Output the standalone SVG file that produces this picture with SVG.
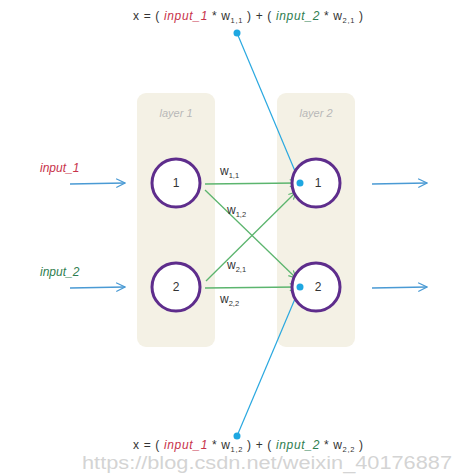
<svg xmlns="http://www.w3.org/2000/svg" width="463" height="474" viewBox="0 0 463 474">
<defs>
<style>
text{font-family:"Liberation Sans","DejaVu Sans",sans-serif;}
.panel{fill:#f4f1e5;}
.lay{font-size:11px;font-style:italic;fill:#b8b8b8;text-anchor:middle;}
.node{fill:#fff;stroke:#5e2d8c;stroke-width:3;}
.nl{font-size:12px;fill:#333;text-anchor:middle;}
.g{stroke:#5cb56e;stroke-width:1.3;fill:none;}
.b{stroke:#4a9ad4;stroke-width:1.3;fill:none;}
.bl{stroke:#29a8e0;stroke-width:1.2;fill:none;}
.dot{fill:#1ea7e1;}
.w{font-size:12px;fill:#333;}
.sub{font-size:7.5px;}
.f{font-size:12px;fill:#333;}
.red{fill:#c8324a;font-style:italic;}
.grn{fill:#2e7d4f;font-style:italic;}
</style>
<marker id="ag" viewBox="0 0 10 10" refX="9" refY="5" markerWidth="9" markerHeight="9" markerUnits="userSpaceOnUse" orient="auto"><path d="M1,1 L9,5 L1,9" fill="none" stroke="#5cb56e" stroke-width="1.3"/></marker>
<marker id="ab" viewBox="0 0 10 10" refX="9" refY="5" markerWidth="11" markerHeight="11" markerUnits="userSpaceOnUse" orient="auto"><path d="M1,1 L9,5 L1,9" fill="none" stroke="#4a9ad4" stroke-width="1.1"/></marker>
</defs>
<rect width="463" height="474" fill="#fff"/>
<g id="layer1"><rect class="panel" x="137" y="93" width="78" height="254" rx="9"/><text class="lay" x="176" y="117">layer 1</text></g>
<g id="layer2"><rect class="panel" x="277" y="93" width="78" height="254" rx="9"/><text class="lay" x="316" y="117">layer 2</text></g>
<g id="connectors">
<path class="g" d="M205,184 L297,183" marker-end="url(#ag)"/>
<path class="g" d="M205,190 L296,278" marker-end="url(#ag)"/>
<path class="g" d="M206,281 L296,192" marker-end="url(#ag)"/>
<path class="g" d="M205,288 L297,287" marker-end="url(#ag)"/>
<path class="b" d="M70,184 L125,183" marker-end="url(#ab)"/>
<path class="b" d="M70,288 L125,287" marker-end="url(#ab)"/>
<path class="b" d="M372,184 L427,183" marker-end="url(#ab)"/>
<path class="b" d="M372,288 L427,287" marker-end="url(#ab)"/>
<path class="bl" d="M237,33 L300,183"/>
<path class="bl" d="M237,436 L300,287"/>
</g>
<g id="n11"><circle class="node" cx="176" cy="183" r="24"/><text class="nl" x="176" y="187">1</text></g>
<g id="n12"><circle class="node" cx="176" cy="287" r="24"/><text class="nl" x="176" y="291">2</text></g>
<g id="n21"><circle class="node" cx="316" cy="183" r="24"/><text class="nl" x="318" y="187">1</text><circle class="dot" cx="300" cy="183" r="3.5"/></g>
<g id="n22"><circle class="node" cx="316" cy="287" r="24"/><text class="nl" x="318" y="291">2</text><circle class="dot" cx="300" cy="287" r="3.5"/></g>
<g id="labels">
<text class="w" x="220" y="175">w<tspan class="sub" dy="3">1,1</tspan></text>
<text class="w" x="227" y="214">w<tspan class="sub" dy="3">1,2</tspan></text>
<text class="w" x="227" y="269">w<tspan class="sub" dy="3">2,1</tspan></text>
<text class="w" x="220" y="303">w<tspan class="sub" dy="3">2,2</tspan></text>
<text class="f red" x="40" y="172" font-size="12.5">input_1</text>
<text class="f grn" x="40" y="276" font-size="12.5">input_2</text>
</g>
<g id="formula-top"><circle class="dot" cx="237" cy="33" r="3.5"/>
<text class="f" x="133" y="20" textLength="230" lengthAdjust="spacing">x = ( <tspan class="red">input_1</tspan> * w<tspan class="sub" dy="3">1,1</tspan><tspan dy="-3"> ) + ( </tspan><tspan class="grn">input_2</tspan> * w<tspan class="sub" dy="3">2,1</tspan><tspan dy="-3"> )</tspan></text></g>
<g id="formula-bottom"><circle class="dot" cx="237" cy="436" r="3.5"/>
<text class="f" x="133" y="449" textLength="230" lengthAdjust="spacing">x = ( <tspan class="red">input_1</tspan> * w<tspan class="sub" dy="3">1,2</tspan><tspan dy="-3"> ) + ( </tspan><tspan class="grn">input_2</tspan> * w<tspan class="sub" dy="3">2,2</tspan><tspan dy="-3"> )</tspan></text></g>
<text x="82" y="469" font-family="Liberation Serif, serif" font-size="18" fill="#c8c8c8" fill-opacity="0.8" textLength="370" lengthAdjust="spacingAndGlyphs">https://blog.csdn.net/weixin_40176887</text>
</svg>
